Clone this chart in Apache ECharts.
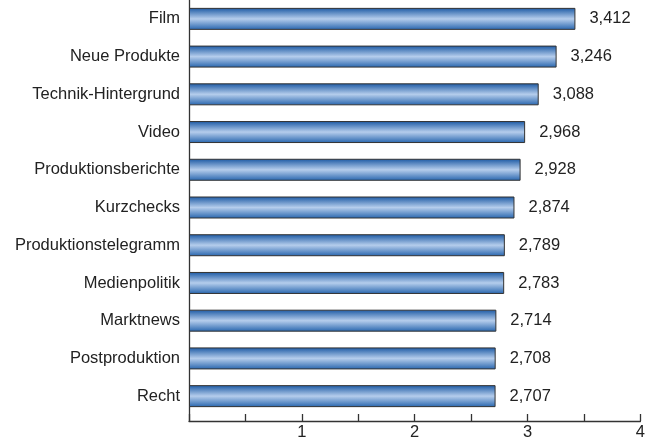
<!DOCTYPE html>
<html><head><meta charset="utf-8">
<script src="https://cdn.jsdelivr.net/npm/echarts@6/dist/echarts.min.js"></script>
<style>html,body{margin:0;padding:0;background:#fff}#c{width:648px;height:442px}</style>
</head><body><div id="c"></div>
<script>
const categories = ['Film','Neue Produkte','Technik-Hintergrund','Video','Produktionsberichte','Kurzchecks','Produktionstelegramm','Medienpolitik','Marktnews','Postproduktion','Recht'];
const values = [3.412,3.246,3.088,2.968,2.928,2.874,2.789,2.783,2.714,2.708,2.707];
const xTicks = [1,2,3,4];

const chart = echarts.init(document.getElementById('c'), null, {renderer:'canvas'});
const font = 'Liberation Sans, Arial, Helvetica, sans-serif';
const barGrad = new echarts.graphic.LinearGradient(0,0,0,1,[
  {offset:0,color:'#1a58a3'},
  {offset:0.5,color:'#b5cdec'},
  {offset:1,color:'#2664ad'}
]);
chart.setOption({
  animation:false,
  grid:[
    {left:189,right:6,top:-1,height:416,containLabel:false},
    {left:189,right:6,top:0,bottom:21,containLabel:false}
  ],
  xAxis:[
    {gridIndex:0,type:'value',min:0,max:4,show:false},
    {gridIndex:1,type:'value',min:0,max:4,interval:0.5,
      axisLine:{show:true,lineStyle:{color:'#333',width:1.3}},
      axisTick:{show:true,inside:true,length:7,lineStyle:{color:'#333',width:1.3}},
      splitLine:{show:false},
      axisLabel:{color:'#222',fontSize:16.5,fontFamily:font,margin:3,
        formatter:v=>xTicks.indexOf(v)>=0?String(v):''}}
  ],
  yAxis:[
    {gridIndex:0,type:'category',data:categories,inverse:true,
      axisLine:{show:false},axisTick:{show:false},
      axisLabel:{color:'#222',fontSize:16.5,fontFamily:font,margin:9}},
    {gridIndex:1,type:'value',min:0,max:1,
      axisLine:{show:true,lineStyle:{color:'#333',width:1.3}},
      axisTick:{show:false},axisLabel:{show:false},splitLine:{show:false}}
  ],
  series:[
    {type:'bar',xAxisIndex:0,yAxisIndex:0,data:values,barWidth:22,
      itemStyle:{color:barGrad,borderColor:'#333',borderWidth:1},
      label:{show:true,position:'right',distance:14,color:'#222',fontSize:16.5,fontFamily:font,
        formatter:p=>p.value.toFixed(3).replace('.',',')}},
    {type:'line',xAxisIndex:1,yAxisIndex:1,data:[],silent:true}
  ]
});
</script></body></html>
